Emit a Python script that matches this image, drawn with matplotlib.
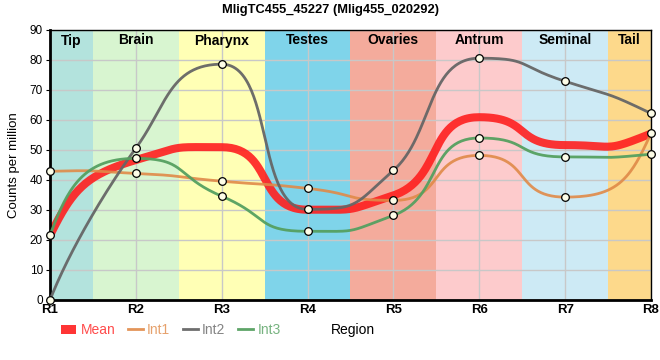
import numpy as np
import matplotlib.pyplot as plt
from matplotlib.patches import Patch
from matplotlib.lines import Line2D

plt.rcParams['font.family'] = ['Liberation Sans', 'DejaVu Sans']

regions = ['R1', 'R2', 'R3', 'R4', 'R5', 'R6', 'R7', 'R8']
int1 = [42.9, 42.2, 39.6, 37.2, 33.2, 48.2, 34.3, 55.6]
int2 = [0.0, 50.6, 78.6, 30.2, 43.2, 80.6, 72.9, 62.2]
int3 = [21.6, 47.2, 34.6, 22.9, 28.2, 54.0, 47.7, 48.6]
mean = list(np.mean([int1, int2, int3], axis=0))

band_names = ['Tip', 'Brain', 'Pharynx', 'Testes', 'Ovaries', 'Antrum', 'Seminal', 'Tail']
band_colors = ['#b3e3dd', '#d8f5d0', '#ffffb5', '#7fd4ea', '#f4ab9c', '#fdcbcc', '#cdeaf5', '#fdd98b']

FIG_W, FIG_H = 660, 360
AX_BOX = [50, 60, 601, 270]  # left, bottom, width, height in pixels
YMAX = 90


def smooth(x, y, kx, ky, arm=52, n=60):
    # monotone tangents, bezier handles of fixed pixel length along the tangent
    x = np.asarray(x, float)
    y = np.asarray(y, float)
    h = np.diff(x)
    s = np.diff(y) / h
    t = np.zeros_like(y)
    for i in range(1, len(y) - 1):
        p = (s[i - 1] * h[i] + s[i] * h[i - 1]) / (h[i - 1] + h[i])
        t[i] = (np.sign(s[i - 1]) + np.sign(s[i])) * min(abs(s[i - 1]), abs(s[i]), 0.5 * abs(p))
    t[0] = 3 * s[0] - 2 * t[1]
    t[-1] = 3 * s[-1] - 2 * t[-2]
    # handle offsets in data units
    dirx = kx / np.hypot(kx, t * ky)
    hx = arm * dirx / kx
    hy = hx * t
    xs, ys = [], []
    for i in range(len(h)):
        px = [x[i], x[i] + hx[i], x[i + 1] - hx[i + 1], x[i + 1]]
        py = [y[i], y[i] + hy[i], y[i + 1] - hy[i + 1], y[i + 1]]
        u = np.linspace(0, 1, n)
        b = [(1 - u) ** 3, 3 * (1 - u) ** 2 * u, 3 * (1 - u) * u ** 2, u ** 3]
        xs.extend(sum(bk * pk for bk, pk in zip(b, px)))
        ys.extend(sum(bk * pk for bk, pk in zip(b, py)))
    return np.array(xs), np.array(ys)


fig = plt.figure(figsize=(FIG_W / 100, FIG_H / 100), dpi=100)
ax = fig.add_axes([AX_BOX[0] / FIG_W, AX_BOX[1] / FIG_H, AX_BOX[2] / FIG_W, AX_BOX[3] / FIG_H])

xpos = np.arange(len(regions))
kx = AX_BOX[2] / (len(regions) - 1)
ky = AX_BOX[3] / YMAX

for i, (name, col) in enumerate(zip(band_names, band_colors)):
    lo = max(i - 0.5, 0)
    hi = min(i + 0.5, len(regions) - 1)
    ax.axvspan(lo, hi, color=col, lw=0, zorder=0)
    ax.text((lo + hi) / 2, 86.5, name, ha='center', va='center',
            fontsize=10, fontweight='bold', zorder=1)

ax.grid(True, color='#c8c8c8', lw=1, zorder=0.5)
ax.set_axisbelow(True)

series = [
    ('Mean', mean, '#ff1f1f', 5.8, 0.9),
    ('Int1', int1, '#e08a48', 2.0, 0.9),
    ('Int2', int2, '#666666', 2.0, 0.95),
    ('Int3', int3, '#55a060', 2.0, 0.95),
]
for name, vals, col, lw, a in series:
    sx, sy = smooth(xpos, vals, kx, ky)
    ax.plot(sx, sy, color=col, lw=lw, alpha=a, solid_capstyle='butt',
            zorder=2 if name == 'Mean' else 3)
for name, vals, col, lw, a in series[1:]:
    ax.plot(xpos, vals, 'o', ms=5.5, mfc='#fdfde8', mec='black', mew=0.9,
            clip_on=False, zorder=5)

ax.set_xlim(0, len(regions) - 1)
ax.set_ylim(0, YMAX)
ax.set_xticks(xpos)
ax.set_xticklabels(regions, fontsize=9.5, fontweight='bold')
ax.set_yticks(np.arange(0, YMAX + 1, 10))
ax.tick_params(axis='y', labelsize=8.5, length=3, pad=2)
ax.tick_params(axis='x', length=0, pad=3)
for side in ['left', 'bottom']:
    ax.spines[side].set_linewidth(2)
for side in ['top', 'right']:
    ax.spines[side].set_linewidth(1)
ax.set_ylabel('Counts per million', fontsize=9.5, labelpad=7)

fig.suptitle('MligTC455_45227 (Mlig455_020292)', fontsize=9.3, fontweight='bold', y=0.99)

handles = [Patch(facecolor=series[0][2], alpha=0.9, label='Mean')]
for name, vals, col, lw, a in series[1:]:
    handles.append(Line2D([], [], color=col, lw=lw, alpha=a, label=name))
leg = fig.legend(handles=handles, loc='center left', bbox_to_anchor=(54 / FIG_W, 0.083),
                 ncol=4, frameon=False, fontsize=10, handlelength=1.1, handleheight=0.6,
                 borderpad=0, handletextpad=0.3, columnspacing=0.9)
for txt, (name, vals, col, lw, a) in zip(leg.get_texts(), series):
    txt.set_color(col)
    txt.set_alpha(0.8)
fig.text(331 / FIG_W, 0.083, 'Region', fontsize=10, va='center')

fig.savefig('out.png', dpi=100)
